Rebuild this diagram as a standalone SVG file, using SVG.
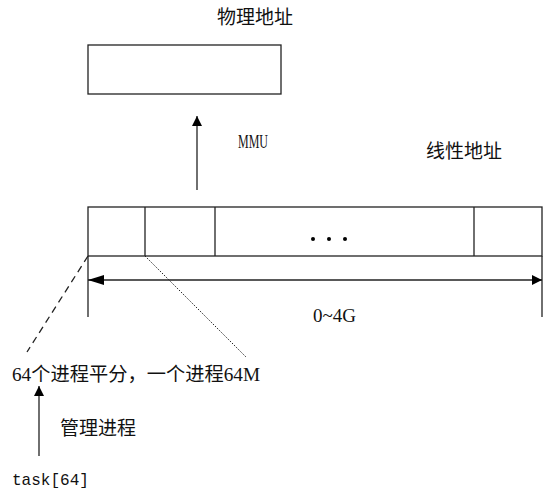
<svg xmlns="http://www.w3.org/2000/svg" width="546" height="500" viewBox="0 0 546 500">
<style>
.box{fill:#fff;stroke:#222;stroke-width:1.3}
.ln{stroke:#222;stroke-width:1.3;fill:none}
.t{font-family:"Liberation Serif","Noto Sans CJK SC",serif;font-size:19px;fill:#111}
.m{font-family:"Liberation Mono","Noto Sans CJK SC",monospace;font-size:17px;fill:#111}
</style>
<defs>
<marker id="ah" viewBox="0 0 10 10" refX="10" refY="5" markerWidth="16" markerHeight="10" markerUnits="userSpaceOnUse" orient="auto">
<path d="M0,0 L10,5 L0,10 z" fill="#000"/>
</marker>
</defs>
<rect width="546" height="500" fill="#fff"/>
<g id="phys">
<rect class="box" x="88" y="45" width="193" height="49"/>
<text class="t" x="217" y="24">物理地址</text>
</g>
<g id="linear">
<rect class="box" x="88" y="207" width="454" height="49"/>
<line class="ln" x1="145" y1="207" x2="145" y2="256"/>
<line class="ln" x1="215" y1="207" x2="215" y2="256"/>
<line class="ln" x1="474" y1="207" x2="474" y2="256"/>
<circle cx="313" cy="239" r="2" fill="#000"/>
<circle cx="329" cy="239" r="2" fill="#000"/>
<circle cx="345" cy="239" r="2" fill="#000"/>
<text class="t" x="426" y="158">线性地址</text>
</g>
<g id="labels">
<text class="t" x="238" y="148" font-size="16" textLength="30" lengthAdjust="spacingAndGlyphs">MMU</text>
<text class="t" x="313" y="322">0~4G</text>
<text class="t" x="12" y="381" textLength="248" lengthAdjust="spacingAndGlyphs">64个进程平分，一个进程64M</text>
<text class="t" x="60" y="435">管理进程</text>
<text class="m" x="12" y="485" textLength="77" lengthAdjust="spacingAndGlyphs">task[64]</text>
</g>
<g id="connectors">
<line class="ln" x1="197" y1="190" x2="197" y2="116" marker-end="url(#ah)"/>
<line class="ln" x1="88" y1="256" x2="88" y2="317"/>
<line class="ln" x1="542" y1="256" x2="542" y2="317"/>
<line class="ln" x1="88" y1="280" x2="542" y2="280" marker-end="url(#ah)"/>
<path d="M88,280 L104,275 L104,285 z" fill="#000"/>
<line class="ln" x1="88" y1="256" x2="27" y2="352" stroke-dasharray="7,5"/>
<line x1="145" y1="256" x2="246" y2="357" stroke="#222" stroke-width="1" stroke-dasharray="1.5,1.5"/>
<line class="ln" x1="39" y1="456" x2="39" y2="386" marker-end="url(#ah)"/>
</g>
</svg>
